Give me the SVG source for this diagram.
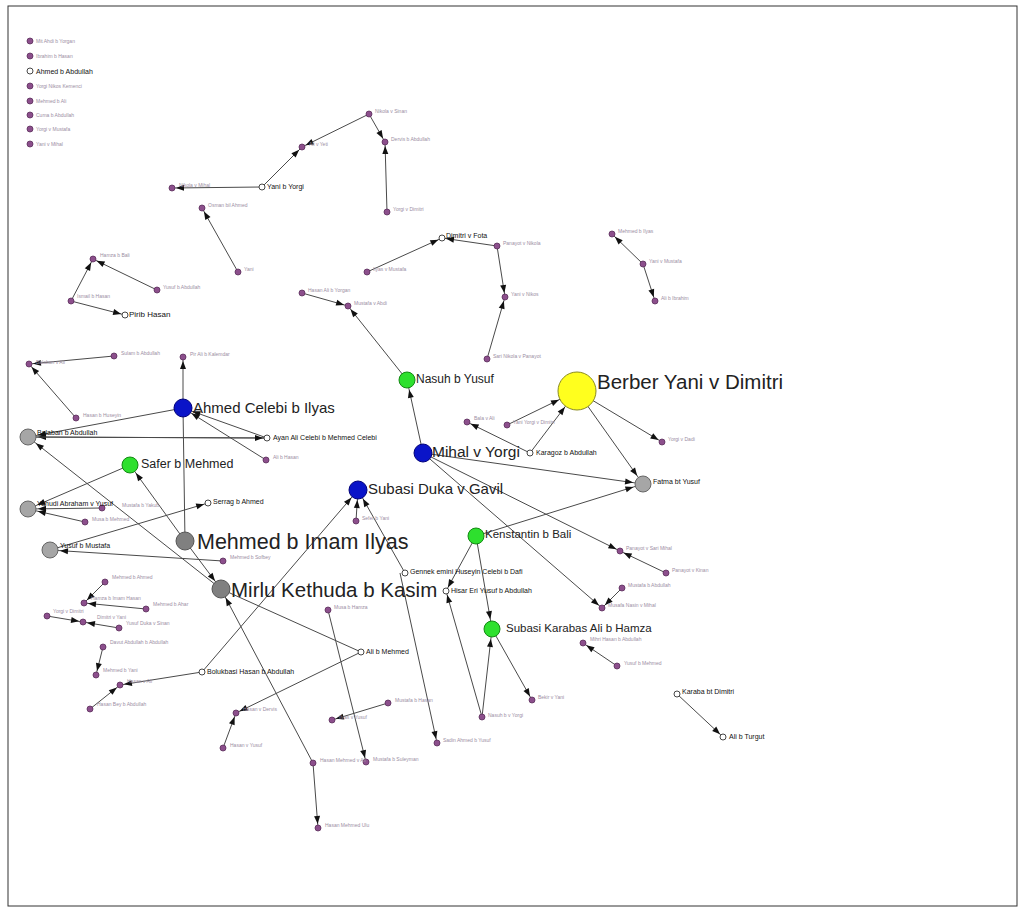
<svg xmlns="http://www.w3.org/2000/svg" width="1025" height="916" viewBox="0 0 1025 916">
<style>
text{font-family:"Liberation Sans",Arial,sans-serif}
.g{font-size:5px;fill:#9b8ea3}
.k{font-size:7px;fill:#111}
.p{fill:#8c4f8c;stroke:#5b2d5b;stroke-width:0.8}
.h{fill:#fff;stroke:#333;stroke-width:0.9}
.gr{fill:#a6a6a6;stroke:#666;stroke-width:1}
.gd{fill:#808080;stroke:#555;stroke-width:1}
.bl{fill:#0a14c8;stroke:#00007a;stroke-width:1}
.gn{fill:#2ee02e;stroke:#138a13;stroke-width:1}
.e line{stroke:#4a4a4a;stroke-width:1}
.s{marker-end:url(#s)}
.b{marker-end:url(#b)}
.y{marker-end:url(#y)}
</style>
<defs>
<marker id="s" viewBox="0 0 8 6" markerUnits="userSpaceOnUse" markerWidth="8" markerHeight="6" refX="12" refY="3" orient="auto" overflow="visible"><path d="M0,0L8,3L0,6z" fill="#111"/></marker>
<marker id="b" viewBox="0 0 8 6" markerUnits="userSpaceOnUse" markerWidth="8" markerHeight="6" refX="18" refY="3" orient="auto" overflow="visible"><path d="M0,0L8,3L0,6z" fill="#111"/></marker>
<marker id="y" viewBox="0 0 8 6" markerUnits="userSpaceOnUse" markerWidth="8" markerHeight="6" refX="28" refY="3" orient="auto" overflow="visible"><path d="M0,0L8,3L0,6z" fill="#111"/></marker>
</defs>
<rect x="8" y="6" width="1009" height="900" fill="#fff" stroke="#333" stroke-width="1"/>
<g id="edges" class="e">
<line class="s" x1="262" y1="187" x2="172" y2="188"/>
<line class="s" x1="262" y1="187" x2="302" y2="147"/>
<line class="s" x1="369" y1="114" x2="302" y2="147"/>
<line class="s" x1="369" y1="114" x2="385" y2="142"/>
<line class="s" x1="387" y1="212" x2="385" y2="142"/>
<line class="s" x1="238" y1="272" x2="202" y2="208"/>
<line class="s" x1="367" y1="272" x2="442" y2="238"/>
<line class="s" x1="497" y1="246" x2="442" y2="238"/>
<line class="s" x1="497" y1="246" x2="505" y2="297"/>
<line class="s" x1="487" y1="359" x2="505" y2="297"/>
<line class="s" x1="302" y1="293" x2="348" y2="306"/>
<line class="s" x1="407" y1="380" x2="348" y2="306"/>
<line class="s" x1="643" y1="264" x2="612" y2="234"/>
<line class="s" x1="643" y1="264" x2="655" y2="301"/>
<line class="s" x1="157" y1="290" x2="93" y2="259"/>
<line class="s" x1="71" y1="301" x2="93" y2="259"/>
<line class="s" x1="71" y1="301" x2="125" y2="315"/>
<line class="s" x1="114" y1="356" x2="29" y2="364"/>
<line class="s" x1="76" y1="418" x2="29" y2="364"/>
<line class="s" x1="183" y1="408" x2="183" y2="357"/>
<line class="b" x1="183" y1="408" x2="28" y2="437"/>
<line class="b" x1="267" y1="438" x2="28" y2="437"/>
<line class="s" x1="28" y1="437" x2="267" y2="438"/>
<line class="b" x1="267" y1="438" x2="183" y2="408"/>
<line class="b" x1="266" y1="460" x2="183" y2="408"/>
<line x1="185" y1="541" x2="183" y2="408"/>
<line class="b" x1="185" y1="541" x2="130" y2="465"/>
<line class="b" x1="130" y1="465" x2="28" y2="509"/>
<line class="b" x1="102" y1="508" x2="28" y2="509"/>
<line class="b" x1="85" y1="522" x2="28" y2="509"/>
<line class="s" x1="50" y1="550" x2="208" y2="503"/>
<line class="b" x1="223" y1="561" x2="50" y2="550"/>
<line class="b" x1="185" y1="541" x2="221" y2="589"/>
<line class="b" x1="221" y1="589" x2="28" y2="437"/>
<line class="b" x1="423" y1="453" x2="407" y2="380"/>
<line class="b" x1="423" y1="453" x2="643" y2="484"/>
<line class="s" x1="530" y1="453" x2="467" y2="422"/>
<line class="y" x1="507" y1="425" x2="577" y2="391"/>
<line class="y" x1="530" y1="453" x2="577" y2="391"/>
<line class="s" x1="577" y1="391" x2="662" y2="442"/>
<line class="b" x1="577" y1="391" x2="643" y2="484"/>
<line class="b" x1="476" y1="536" x2="643" y2="484"/>
<line class="s" x1="423" y1="453" x2="620" y2="551"/>
<line class="s" x1="666" y1="573" x2="620" y2="551"/>
<line class="s" x1="423" y1="453" x2="602" y2="608"/>
<line class="s" x1="622" y1="588" x2="602" y2="608"/>
<line class="b" x1="405" y1="573" x2="358" y2="490"/>
<line class="b" x1="356" y1="521" x2="358" y2="490"/>
<line class="b" x1="202" y1="672" x2="358" y2="490"/>
<line class="s" x1="400" y1="573" x2="437" y2="743"/>
<line class="s" x1="476" y1="536" x2="446" y2="591"/>
<line class="s" x1="482" y1="717" x2="446" y2="591"/>
<line class="b" x1="482" y1="717" x2="492" y2="629"/>
<line class="b" x1="476" y1="536" x2="492" y2="629"/>
<line class="s" x1="492" y1="629" x2="532" y2="700"/>
<line class="s" x1="617" y1="666" x2="583" y2="643"/>
<line class="s" x1="677" y1="694" x2="723" y2="737"/>
<line x1="221" y1="589" x2="361" y2="652"/>
<line class="s" x1="361" y1="652" x2="236" y2="713"/>
<line class="s" x1="202" y1="672" x2="120" y2="685"/>
<line class="s" x1="90" y1="709" x2="120" y2="685"/>
<line class="s" x1="328" y1="610" x2="366" y2="762"/>
<line class="b" x1="313" y1="763" x2="221" y2="589"/>
<line class="s" x1="313" y1="763" x2="318" y2="828"/>
<line class="s" x1="388" y1="703" x2="332" y2="720"/>
<line class="s" x1="223" y1="748" x2="236" y2="713"/>
<line class="s" x1="105" y1="582" x2="84" y2="603"/>
<line class="s" x1="146" y1="609" x2="84" y2="603"/>
<line class="s" x1="47" y1="616" x2="83" y2="622"/>
<line class="s" x1="119" y1="628" x2="83" y2="622"/>
<line class="s" x1="103" y1="647" x2="96" y2="675"/>
</g>
<g id="n-isolates">
<circle class="p" cx="30" cy="41" r="3"/><text class="g" x="36" y="43">Mit Ahdi b Yorgan</text>
<circle class="p" cx="30" cy="56" r="3"/><text class="g" x="36" y="58">Ibrahim b Hasan</text>
<circle class="p" cx="30" cy="86" r="3"/><text class="g" x="36" y="88">Yorgi Nikos Kemenci</text>
<circle class="p" cx="30" cy="101" r="3"/><text class="g" x="36" y="103">Mehmed b Ali</text>
<circle class="p" cx="30" cy="115" r="3"/><text class="g" x="36" y="117">Cuma b Abdullah</text>
<circle class="p" cx="30" cy="129" r="3"/><text class="g" x="36" y="131">Yorgi v Mustafa</text>
<circle class="p" cx="30" cy="144" r="3"/><text class="g" x="36" y="146">Yani v Mihal</text>
</g>
<g id="n-ahmed-abdullah"><circle class="h" cx="30" cy="71" r="3"/><text class="k" x="36" y="74">Ahmed b Abdullah</text></g>
<g id="n-yani-yorgi"><circle class="h" cx="262" cy="187" r="3"/><text class="k" x="267" y="189">Yani b Yorgi</text></g>
<g id="n-nikola-mihal"><circle class="p" cx="172" cy="188" r="3"/><text class="g" x="179" y="187">Nikola v Mihal</text></g>
<g id="n-ali-yeti"><circle class="p" cx="302" cy="147" r="3"/><text class="g" x="309" y="146">Ali v Yeti</text></g>
<g id="n-nikola-sinan"><circle class="p" cx="369" cy="114" r="3"/><text class="g" x="375" y="113">Nikola v Sinan</text></g>
<g id="n-dervis"><circle class="p" cx="385" cy="142" r="3"/><text class="g" x="391" y="141">Dervis b Abdullah</text></g>
<g id="n-yorgi-dimitri"><circle class="p" cx="387" cy="212" r="3"/><text class="g" x="393" y="211">Yorgi v Dimitri</text></g>
<g id="n-osman"><circle class="p" cx="202" cy="208" r="3"/><text class="g" x="208" y="207">Osman bil Ahmed</text></g>
<g id="n-yani"><circle class="p" cx="238" cy="272" r="3"/><text class="g" x="244" y="271">Yani</text></g>
<g id="n-dimitri-fota"><circle class="h" cx="442" cy="238" r="3"/><text class="k" x="446" y="238">Dimitri v Fota</text></g>
<g id="n-ilyas-mustafa"><circle class="p" cx="367" cy="272" r="3"/><text class="g" x="373" y="271">Ilyas v Mustafa</text></g>
<g id="n-panayot-nikola"><circle class="p" cx="497" cy="246" r="3"/><text class="g" x="503" y="245">Panayot v Nikola</text></g>
<g id="n-yani-nikos"><circle class="p" cx="505" cy="297" r="3"/><text class="g" x="511" y="296">Yani v Nikos</text></g>
<g id="n-sari-nikola"><circle class="p" cx="487" cy="359" r="3"/><text class="g" x="493" y="358">Sari Nikola v Panayot</text></g>
<g id="n-hasan-ali"><circle class="p" cx="302" cy="293" r="3"/><text class="g" x="308" y="292">Hasan Ali b Yorgan</text></g>
<g id="n-mustafa-abdi"><circle class="p" cx="348" cy="306" r="3"/><text class="g" x="354" y="305">Mustafa v Abdi</text></g>
<g id="n-mehmed-ilyas"><circle class="p" cx="612" cy="234" r="3"/><text class="g" x="618" y="233">Mehmed b Ilyas</text></g>
<g id="n-yani-mustafa"><circle class="p" cx="643" cy="264" r="3"/><text class="g" x="649" y="263">Yani v Mustafa</text></g>
<g id="n-ali-ibrahim"><circle class="p" cx="655" cy="301" r="3"/><text class="g" x="661" y="300">Ali b Ibrahim</text></g>
<g id="n-hamza-bali"><circle class="p" cx="93" cy="259" r="3"/><text class="g" x="100" y="257">Hamza b Bali</text></g>
<g id="n-yusuf-abdullah"><circle class="p" cx="157" cy="290" r="3"/><text class="g" x="163" y="289">Yusuf b Abdullah</text></g>
<g id="n-ismail"><circle class="p" cx="71" cy="301" r="3"/><text class="g" x="77" y="298">Ismail b Hasan</text></g>
<g id="n-pirib"><circle class="h" cx="125" cy="315" r="3"/><text class="k" x="129" y="317" style="font-size:8px">Pirib Hasan</text></g>
<g id="n-balaban-ali"><circle class="p" cx="29" cy="364" r="3"/><text class="g" x="36" y="364">Balaban v Ali</text></g>
<g id="n-sulam"><circle class="p" cx="114" cy="356" r="3"/><text class="g" x="121" y="355">Sulam b Abdullah</text></g>
<g id="n-pir-ali"><circle class="p" cx="183" cy="357" r="3"/><text class="g" x="190" y="356">Pir Ali b Kalemdar</text></g>
<g id="n-hasan-huseyin"><circle class="p" cx="76" cy="418" r="3"/><text class="g" x="83" y="417">Hasan b Huseyin</text></g>
<g id="n-ali-hasan"><circle class="p" cx="266" cy="460" r="3"/><text class="g" x="273" y="459">Ali b Hasan</text></g>
<g id="n-mustafa-yakub"><circle class="p" cx="102" cy="508" r="3"/><text class="g" x="122" y="507">Mustafa b Yakub</text></g>
<g id="n-musa-mehmed"><circle class="p" cx="85" cy="522" r="3"/><text class="g" x="92" y="521">Musa b Mehmed</text></g>
<g id="n-mehmed-sofbey"><circle class="p" cx="223" cy="561" r="3"/><text class="g" x="230" y="559">Mehmed b Sofbey</text></g>
<g id="n-ahmed-celebi"><circle class="bl" cx="183" cy="408" r="9"/><text x="193" y="413" style="font-size:15px;fill:#222">Ahmed Celebi b Ilyas</text></g>
<g id="n-balaban"><circle class="gr" cx="28" cy="437" r="8"/><text class="k" x="37" y="435">Balaban b Abdullah</text></g>
<g id="n-ayan"><circle class="h" cx="267" cy="438" r="3"/><text class="k" x="273" y="440">Ayan Ali Celebi b Mehmed Celebi</text></g>
<g id="n-safer"><circle class="gn" cx="130" cy="465" r="8"/><text x="141" y="468" style="font-size:12.5px;fill:#222">Safer b Mehmed</text></g>
<g id="n-yahudi"><circle class="gr" cx="28" cy="509" r="8"/><text class="k" x="37" y="506">Yahudi Abraham v Yusuf</text></g>
<g id="n-serrag"><circle class="h" cx="208" cy="503" r="3"/><text class="k" x="213" y="504">Serrag b Ahmed</text></g>
<g id="n-mehmed-imam"><circle class="gd" cx="185" cy="541" r="9"/><text x="197" y="549" style="font-size:21.5px;fill:#222">Mehmed b Imam Ilyas</text></g>
<g id="n-yusuf-mustafa"><circle class="gr" cx="50" cy="550" r="8"/><text class="k" x="60" y="548">Yusuf b Mustafa</text></g>
<g id="n-mirlu"><circle class="gd" cx="221" cy="589" r="9"/><text x="231" y="597" style="font-size:20.5px;fill:#222">Mirlu Kethuda b Kasim</text></g>
<g id="n-nasuh"><circle class="gn" cx="407" cy="380" r="8"/><text x="416" y="383" style="font-size:12px;fill:#222">Nasuh b Yusuf</text></g>
<g id="n-mihal"><circle class="bl" cx="423" cy="453" r="9"/><text x="432" y="457" style="font-size:15.5px;fill:#222">Mihal v Yorgi</text></g>
<g id="n-subasi-duka"><circle class="bl" cx="358" cy="490" r="9"/><text x="368" y="494" style="font-size:15px;fill:#222">Subasi Duka v Gavil</text></g>
<g id="n-sefer-yani"><circle class="p" cx="356" cy="521" r="3"/><text class="g" x="362" y="520">Sefer b Yani</text></g>
<g id="n-kenstantin"><circle class="gn" cx="476" cy="536" r="8"/><text x="485" y="538" style="font-size:11.5px;fill:#222">Kenstantin b Bali</text></g>
<g id="n-bala-ali"><circle class="p" cx="467" cy="422" r="3"/><text class="g" x="474" y="420">Bala v Ali</text></g>
<g id="n-yani-yorgi-dimitri"><circle class="p" cx="507" cy="425" r="3"/><text class="g" x="513" y="424">Yani Yorgi v Dimitri</text></g>
<g id="n-karagoz"><circle class="h" cx="530" cy="453" r="3"/><text class="k" x="536" y="455">Karagoz b Abdullah</text></g>
<g id="n-berber"><circle cx="577" cy="391" r="19" fill="#ffff1e" stroke="#8a8a20" stroke-width="1"/><text x="597" y="389" style="font-size:20.5px;fill:#222">Berber Yani v Dimitri</text></g>
<g id="n-yorgi-dadi"><circle class="p" cx="662" cy="442" r="3"/><text class="g" x="668" y="441">Yorgi v Dadi</text></g>
<g id="n-fatma"><circle class="gr" cx="643" cy="484" r="8"/><text class="k" x="653" y="484">Fatma bt Yusuf</text></g>
<g id="n-panayot-sari"><circle class="p" cx="620" cy="551" r="3"/><text class="g" x="626" y="550">Panayot v Sari Mihal</text></g>
<g id="n-panayot-kinan"><circle class="p" cx="666" cy="573" r="3"/><text class="g" x="672" y="572">Panayot v Kinan</text></g>
<g id="n-mustafa-abdullah"><circle class="p" cx="622" cy="588" r="3"/><text class="g" x="628" y="587">Mustafa b Abdullah</text></g>
<g id="n-musafa"><circle class="p" cx="602" cy="608" r="3"/><text class="g" x="608" y="607">Musafa Nasin v Mihal</text></g>
<g id="n-gennek"><circle class="h" cx="405" cy="573" r="3"/><text class="k" x="410" y="574">Gennek emini Huseyin Celebi b Dafi</text></g>
<g id="n-hisar"><circle class="h" cx="446" cy="591" r="3"/><text class="k" x="451" y="593">Hisar Eri Yusuf b Abdullah</text></g>
<g id="n-subasi-karabas"><circle class="gn" cx="492" cy="629" r="8"/><text x="506" y="632" style="font-size:11.5px;fill:#222">Subasi Karabas Ali b Hamza</text></g>
<g id="n-mihri"><circle class="p" cx="583" cy="643" r="3"/><text class="g" x="590" y="641">Mihri Hasan b Abdullah</text></g>
<g id="n-yusuf-mehmed"><circle class="p" cx="617" cy="666" r="3"/><text class="g" x="624" y="665">Yusuf b Mehmed</text></g>
<g id="n-karaba"><circle class="h" cx="677" cy="694" r="3"/><text class="k" x="682" y="694">Karaba bt Dimitri</text></g>
<g id="n-ali-turgut"><circle class="h" cx="723" cy="737" r="3"/><text class="k" x="729" y="739">Ali b Turgut</text></g>
<g id="n-bekir"><circle class="p" cx="532" cy="700" r="3"/><text class="g" x="538" y="699">Bekir v Yani</text></g>
<g id="n-nasuh-yorgi"><circle class="p" cx="482" cy="717" r="3"/><text class="g" x="488" y="717">Nasuh b v Yorgi</text></g>
<g id="n-sadin"><circle class="p" cx="437" cy="743" r="3"/><text class="g" x="443" y="742">Sadin Ahmed b Yusuf</text></g>
<g id="n-bolukbasi"><circle class="h" cx="202" cy="672" r="3"/><text class="k" x="207" y="674">Bolukbasi Hasan b Abdullah</text></g>
<g id="n-ali-mehmed"><circle class="h" cx="361" cy="652" r="3"/><text class="k" x="366" y="654">Ali b Mehmed</text></g>
<g id="n-musa-hamza"><circle class="p" cx="328" cy="610" r="3"/><text class="g" x="334" y="609">Musa b Hamza</text></g>
<g id="n-mustafa-suleyman"><circle class="p" cx="366" cy="762" r="3"/><text class="g" x="373" y="761">Mustafa b Suleyman</text></g>
<g id="n-hasan-mehmed-ali"><circle class="p" cx="313" cy="763" r="3"/><text class="g" x="320" y="762">Hasan Mehmed v Ali</text></g>
<g id="n-hasan-mehmed-ulu"><circle class="p" cx="318" cy="828" r="3"/><text class="g" x="325" y="827">Hasan Mehmed Ulu</text></g>
<g id="n-mustafa-hasan"><circle class="p" cx="388" cy="703" r="3"/><text class="g" x="395" y="702">Mustafa b Hasan</text></g>
<g id="n-ilyas-yusuf"><circle class="p" cx="332" cy="720" r="3"/><text class="g" x="339" y="719">Ilyas v Yusuf</text></g>
<g id="n-hasan-dervis"><circle class="p" cx="236" cy="713" r="3"/><text class="g" x="243" y="711">Hasan v Dervis</text></g>
<g id="n-hasan-yusuf"><circle class="p" cx="223" cy="748" r="3"/><text class="g" x="230" y="747">Hasan v Yusuf</text></g>
<g id="n-mehmed-ahmed"><circle class="p" cx="105" cy="582" r="3"/><text class="g" x="112" y="579">Mehmed b Ahmed</text></g>
<g id="n-hamza-imam"><circle class="p" cx="84" cy="603" r="3"/><text class="g" x="91" y="600">Hamza b Imam Hasan</text></g>
<g id="n-mehmed-ahar"><circle class="p" cx="146" cy="609" r="3"/><text class="g" x="153" y="606">Mehmed b Ahar</text></g>
<g id="n-yorgi-dimitri2"><circle class="p" cx="47" cy="616" r="3"/><text class="g" x="53" y="613">Yorgi v Dimitri</text></g>
<g id="n-dimitri-yani"><circle class="p" cx="83" cy="622" r="3"/><text class="g" x="97" y="619">Dimitri v Yani</text></g>
<g id="n-yusuf-duka"><circle class="p" cx="119" cy="628" r="3"/><text class="g" x="126" y="625">Yusuf Duka v Sinan</text></g>
<g id="n-davut"><circle class="p" cx="103" cy="647" r="3"/><text class="g" x="110" y="644">Davut Abdullah b Abdullah</text></g>
<g id="n-mehmed-yani"><circle class="p" cx="96" cy="675" r="3"/><text class="g" x="103" y="672">Mehmed b Yani</text></g>
<g id="n-hasan-ali2"><circle class="p" cx="120" cy="685" r="3"/><text class="g" x="127" y="683">Hasan v Ali</text></g>
<g id="n-hasan-bey"><circle class="p" cx="90" cy="709" r="3"/><text class="g" x="97" y="706">Hasan Bey b Abdullah</text></g>
</svg>
